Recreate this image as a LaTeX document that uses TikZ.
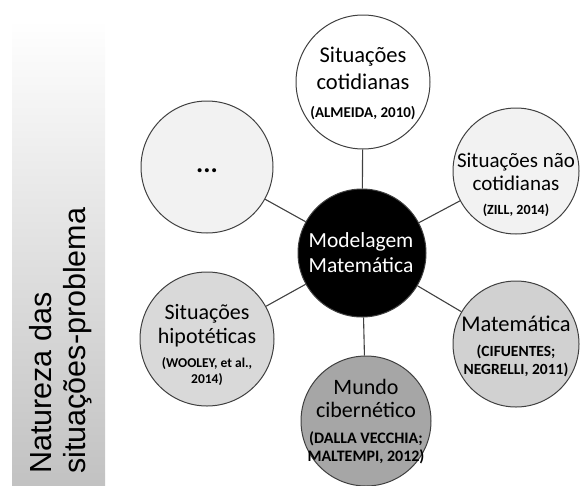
\documentclass[tikz,border=0pt]{standalone}
\usepackage{fontspec}
\setmainfont{Carlito}
\newfontfamily\arialf{Liberation Sans}
\newcommand\citf[1]{\bfseries\fontsize{#1}{#1}\selectfont}
\begin{document}
\begin{tikzpicture}[x=1pt,y=-1pt,
  bub/.style={circle,draw=black!75,line width=1pt,inner sep=0pt},
  txt/.style={inner sep=0pt,align=center},
  link/.style={draw=black!75,line width=1.1pt}]
\useasboundingbox (0,0) rectangle (581,485);
\shade[top color=white,bottom color=black!24] (12,20) rectangle (105,485);
\node[font=\arialf\fontsize{30.5}{34}\selectfont,rotate=90,anchor=north west,align=left,inner sep=0pt] (lab) at (29,474) {Natureza das\\situações-problema};
% circles
\node[bub,fill=black,minimum size=128pt] (c) at (362,253) {};
\node[bub,fill=white,minimum size=134pt] (t) at (363,82) {};
\node[bub,fill=black!5,minimum size=126pt] (rt) at (516,171) {};
\node[bub,fill=black!18,minimum size=126pt] (rb) at (516,344) {};
\node[bub,fill=black!35,minimum size=130pt] (b) at (366,421) {};
\node[bub,fill=black!15,minimum size=134pt] (lb) at (207,339) {};
\node[bub,fill=black!5,minimum size=132pt] (lt) at (207,167) {};
\foreach \n in {t,rt,rb,b,lb,lt} \path[link] (c) -- (\n);
% texts
\node[txt,text=white,font=\fontsize{21.5}{25}\selectfont] (c-l) at (361,253) {Modelagem\\Matemática};
\node[txt,font=\fontsize{22.5}{27}\selectfont] (t-l) at (363,83)
  {Situações\\cotidianas\\[1pt]\citf{15}(ALMEIDA, 2010)};
\node[txt,font=\fontsize{21}{23}\selectfont] (rt-l) at (516,185)
  {Situações não\\cotidianas\\[1pt]\citf{14}(ZILL, 2014)};
\node[txt,font=\fontsize{22.5}{25}\selectfont] (rb-l) at (516,346)
  {Matemática\\\citf{15.5}(CIFUENTES;\\[-7pt]\citf{15.5}NEGRELLI, 2011)};
\node[txt,font=\fontsize{22}{23}\selectfont] (b-l) at (366,422)
  {Mundo\\cibernético\\[3pt]\citf{16}(DALLA VECCHIA;\\[-5pt]\citf{16}MALTEMPI, 2012)};
\node[txt,font=\fontsize{22}{24}\selectfont] (lb-l) at (207,345)
  {Situações\\hipotéticas\\\citf{13.5}(WOOLEY, et al.,\\[-8pt]\citf{13.5}2014)};
\node[txt,font=\bfseries\fontsize{27}{30}\selectfont] (lt-l) at (207,171) {...};
\end{tikzpicture}
\end{document}
